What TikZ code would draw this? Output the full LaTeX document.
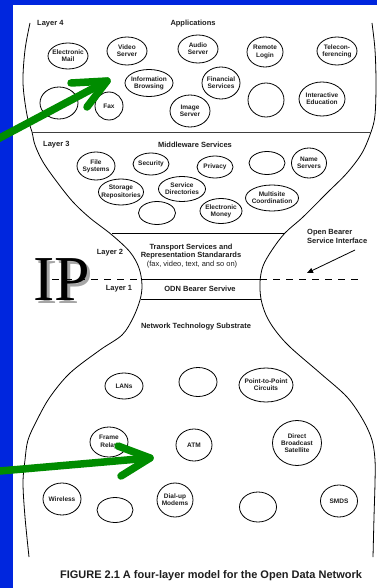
\documentclass[tikz,border=0pt]{standalone}
\usepackage{fontspec}
\setmainfont{Liberation Sans}
\newfontfamily\ipfont{Liberation Serif}
\usetikzlibrary{arrows.meta}
\definecolor{bluebg}{RGB}{0,38,222}
\definecolor{arrowgreen}{RGB}{0,140,0}
\definecolor{inkgray}{RGB}{30,30,30}
\newcommand\bubfont{\fontsize{6.5}{7.3}\selectfont\bfseries}
\newcommand\labfont{\fontsize{7.5}{8.8}\selectfont\bfseries}
\newcommand\bub[6]{%
  \node[bubtext] (#1) at (#2,#3) {#6};
  \draw[bubline] (#1.center) ellipse [x radius=#4pt, y radius=#5pt];}
\begin{document}
\begin{tikzpicture}[x=1pt,y=-1pt,
  bubtext/.style={inner sep=0pt, align=center, font=\bubfont, text=inkgray},
  bubline/.style={draw=black, line width=0.8pt},
  outline/.style={draw=black, line width=0.8pt},
  lab/.style={inner sep=0pt, font=\labfont, text=inkgray, align=center},
  greenarrow/.style={draw=arrowgreen, line width=7.5pt, line cap=round, line join=round},
  ipstyle/.style={inner sep=0pt, font=\ipfont\fontsize{64}{64}\selectfont, anchor=base west}]
\useasboundingbox (0,0) rectangle (377,588);
\fill[white] (0,0) rectangle (377,588);
\fill[bluebg] (0,0) rectangle (13,588);
\fill[bluebg] (0,0) rectangle (377,5);

% hourglass outline
\draw[outline] plot[smooth, tension=0.55] coordinates {
 (30,23) (25,50) (23,83) (27,115) (32,132) (35,145) (43,162) (57,182) (73,202)
 (90,218) (112,235) (130,252) (139,268) (142,285) (140,300) (133,318) (122,335)
 (100,350) (70,373) (50,397) (37,420) (28,440) (25,460) (23,483) (25,517) (29,557)};
\draw[outline] plot[smooth, tension=0.55] coordinates {
 (372,23) (375,50) (376,83) (375,115) (371,132) (362,153) (347,173) (327,193)
 (303,217) (285,233) (272,250) (263,266) (260,282) (261,299) (266,315) (275,330)
 (290,347) (320,373) (347,397) (363,420) (372,440) (375,460) (375,483) (374,517) (373,557)};

% layer separators
\coordinate (s4l) at (32,132); \coordinate (s4r) at (371,132);
\coordinate (s3l) at (112,233); \coordinate (s3r) at (285,233);
\coordinate (s2l) at (142,279); \coordinate (s2r) at (260,279);
\coordinate (s1l) at (141,299); \coordinate (s1r) at (261,299);
\coordinate (dl) at (52,279); \coordinate (dr) at (362,279);
\draw[outline, draw=black!75] (s4l) -- (s4r);
\draw[outline] (s3l) -- (s3r);
\draw[black, line width=0.8pt, dash pattern=on 7pt off 6pt] (dl) -- (dr);
\draw[outline] (s2l) -- (s2r);
\draw[outline] (s1l) -- (s1r);

% IP with shadow
\node[ipstyle, text=black, opacity=0.35] (ipshadow) at (36,303) {IP};
\node[ipstyle, text=black] (ip) at (33,300) {IP};

% labels
\node[lab, anchor=west] (l4) at (37,24) {Layer 4};
\node[lab] (apps) at (193,24) {Applications};
\node[lab, anchor=west] (l3) at (43,145) {Layer 3};
\node[lab] (mid) at (195,145) {Middleware Services};
\node[lab] (l2) at (110,253) {Layer 2};
\node[lab] (trans) at (191,251.5) {Transport Services and\\Representation Standarards};
\node[lab, font=\fontsize{7.5}{8.8}\selectfont] (fax2) at (192,265) {(fax, video, text, and so on)};
\node[lab] (l1) at (119,289) {Layer 1};
\node[lab] (odn) at (200,289) {ODN Bearer Servive};
\node[lab] (nts) at (196,327) {Network Technology Substrate};
\node[lab, align=left, anchor=north west] (obsi) at (307,229.5) {Open Bearer\\Service Interface};
\coordinate (obtail) at (355,250);
\coordinate (obtip) at (307,273);
\draw[black, line width=0.8pt, -{Triangle[length=6pt, width=5pt]}] (obtail) -- (obtip);

% Layer 4 bubbles
\bub{email}{68}{56}{20}{13}{Electronic\\Mail}
\bub{video}{127}{51}{20}{14}{Video\\Server}
\bub{audio}{198}{49}{20}{14}{Audio\\Server}
\bub{remote}{265}{52}{18}{15}{Remote\\Login}
\bub{telecon}{337}{51}{20}{14}{Telecon-\\ferencing}
\bub{emptyA}{59}{103}{19}{16}{}
\bub{fax}{109}{106}{14}{14}{Fax}
\bub{info}{149}{83}{24}{13.5}{Information\\Browsing}
\bub{image}{190}{111}{20}{16}{Image\\Server}
\bub{financial}{221}{83}{19}{16}{Financial\\Services}
\bub{emptyB}{266}{100}{18}{17}{}
\bub{interactive}{322}{99}{23}{17}{Interactive\\Education}

% Layer 3 bubbles
\bub{file}{96}{166}{19}{14}{File\\Systems}
\bub{security}{151}{164}{18}{11}{Security}
\bub{privacy}{215}{167}{18}{11}{Privacy}
\bub{emptyC}{267}{163}{18}{11.5}{}
\bub{names}{309}{163}{17.5}{15}{Name\\Servers}
\bub{storage}{121}{192}{22.5}{13}{Storage\\Repositories}
\bub{servdir}{182}{189}{23.5}{12.5}{Service\\Directories}
\bub{emptyD}{157}{213}{18.5}{11.5}{}
\bub{money}{221}{211}{21}{12.5}{Electronic\\Money}
\bub{multisite}{272}{198}{26.5}{13}{Multisite\\Coordination}

% Substrate bubbles
\bub{lans}{124}{386}{19}{13}{LANs}
\bub{emptyE}{198}{382}{19}{14.5}{}
\bub{p2p}{266}{385}{27}{17}{Point-to-Point\\Circuits}
\bub{frame}{109}{442}{19}{15}{Frame\\Relay}
\bub{atm}{194}{445}{18}{16}{ATM}
\bub{dbs}{297}{443}{24.5}{22.5}{Direct\\Broadcast\\Satellite}
\bub{wireless}{62}{499}{19}{16}{Wireless}
\bub{emptyF}{115}{510}{18}{12.5}{}
\bub{dialup}{175}{500}{18}{17}{Dial-up\\Modems}
\bub{emptyG}{258}{507}{18.5}{15}{}
\bub{smds}{339}{501}{18.5}{16}{SMDS}

% caption
\node[inner sep=0pt, font=\fontsize{11}{13}\selectfont\bfseries, text=inkgray] (cap) at (211,576) {FIGURE 2.1 A four-layer model for the Open Data Network};

% green arrows
\coordinate (g1s) at (-6,141); \coordinate (g1t) at (107,81);
\coordinate (g1a) at (71,83); \coordinate (g1b) at (87,107);
\draw[greenarrow] (g1s) -- (g1t);
\draw[greenarrow] (g1a) -- (g1t) -- (g1b);
\coordinate (g2s) at (-6,471.5); \coordinate (g2t) at (150,458);
\coordinate (g2a) at (118,446); \coordinate (g2b) at (121,476);
\draw[greenarrow] (g2s) -- (g2t);
\draw[greenarrow] (g2a) -- (g2t) -- (g2b);
\end{tikzpicture}
\end{document}
